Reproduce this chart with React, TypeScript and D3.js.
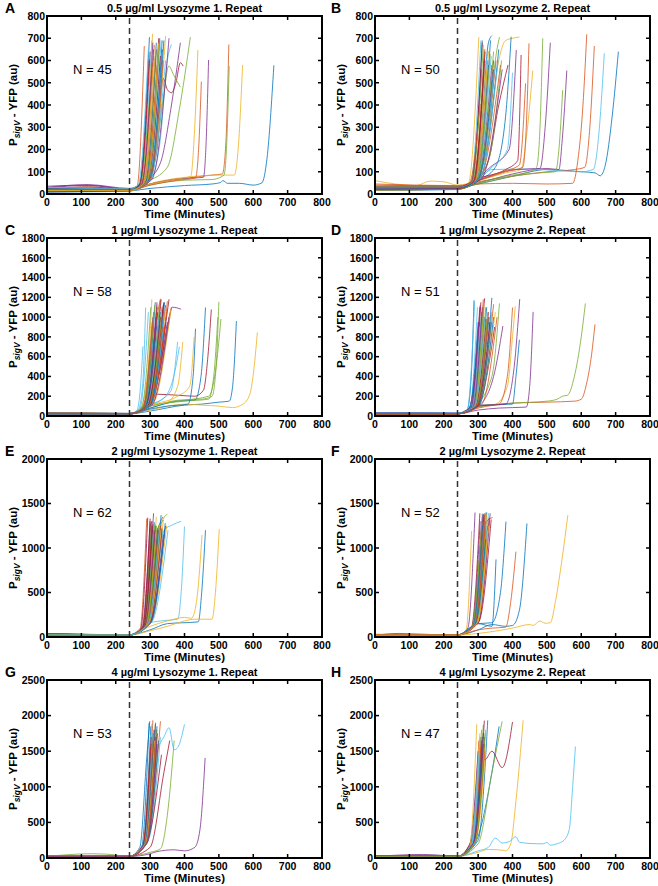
import React from 'react';
import * as d3 from 'd3';

const colors = ['#0072BD', '#D95319', '#EDB120', '#7E2F8E', '#77AC30', '#4DBEEE', '#A2142F'];
const xTicks = [0, 100, 200, 300, 400, 500, 600, 700, 800];
const yTicks800 = [0, 100, 200, 300, 400, 500, 600, 700, 800];
const yTicks1800 = [0, 200, 400, 600, 800, 1000, 1200, 1400, 1600, 1800];
const yTicks2000 = [0, 500, 1000, 1500, 2000];
const yTicks2500 = [0, 500, 1000, 1500, 2000, 2500];
const letters = ['A', 'B', 'C', 'D', 'E', 'F', 'G', 'H'];
const titles = [
  '0.5 µg/ml Lysozyme 1. Repeat', '0.5 µg/ml Lysozyme 2. Repeat',
  '1 µg/ml Lysozyme 1. Repeat', '1 µg/ml Lysozyme 2. Repeat',
  '2 µg/ml Lysozyme 1. Repeat', '2 µg/ml Lysozyme 2. Repeat',
  '4 µg/ml Lysozyme 1. Repeat', '4 µg/ml Lysozyme 2. Repeat',
];
const nCells = [45, 50, 58, 51, 62, 52, 53, 47];
const additionTime = 240;

// each trace: flat [time, value, time, value, ...]
const tracesA: number[][] = [
  [0,12,120,18,240,15,300,25,400,38,480,45,505,52,512,60,525,48,560,48,600,40,625,50,640,160,660,578],
  [0,22,120,28,240,20,300,45,400,70,480,85,510,90,520,220,529,672],
  [0,15,120,32,240,22,320,55,420,78,500,85,545,85,556,200,569,580],
  [0,28,120,38,240,22,300,45,380,68,455,75,462,200,470,602],
  [0,10,120,22,240,16,300,40,400,62,480,65,515,85,522,200,530,575],
  [0,18,120,25,240,20,300,60,330,250,350,600,362,672],
  [0,20,120,32,240,18,290,55,320,200,338,520,350,470,362,455,375,500,388,590,396,575],
  [0,10,240,14,300,60,335,690],
  [0,15,120,22,240,18,300,40,380,62,432,72,441,200,449,505],
  [0,20,120,25,240,20,300,45,380,68,418,78,428,250,439,647],
  [0,30,120,42,240,25,290,60,330,140,360,380,388,680],
  [0,18,120,22,240,20,290,55,350,120,385,380,417,705],
  [0,8,240,12,272,45,305,690],
  [0,25,240,20,275,50,310,650],
  [0,14,240,16,268,40,298,705],
  [0,20,240,22,262,35,283,665],
  [0,12,240,18,280,55,307,720],
  [0,35,120,40,240,20,285,55,318,650],
  [0,15,120,25,240,18,290,60,320,220,340,450,354,575,370,530,388,480],
  [0,18,240,20,285,50,322,600],
  [0,26,240,22,270,45,300,640],
  [0,10,240,15,290,60,328,700],
  [0,20,240,18,275,45,305,560],
  [0,15,240,20,300,60,345,710],
  [0,22,240,20,282,50,315,620],
  [0,30,240,25,270,45,302,500],
  [0,12,240,15,295,55,332,690],
  [0,18,240,20,288,55,325,700],
  [0,25,240,22,300,60,340,690],
  [0,14,240,18,280,50,312,670],
  [0,20,240,18,278,45,310,600],
  [0,16,240,17,305,65,355,700],
  [0,22,240,20,285,55,318,640],
  [0,28,240,24,265,40,295,650],
  [0,14,240,16,292,55,330,620],
  [0,18,240,20,296,60,336,650],
  [0,25,240,22,288,50,320,560],
  [0,12,240,14,290,55,325,680],
  [0,20,240,20,276,45,308,680],
  [0,16,240,18,292,60,328,690],
  [0,30,240,22,300,60,345,600],
  [0,10,240,14,270,45,297,600],
  [0,24,240,20,285,50,318,680],
  [0,20,240,18,296,55,338,600],
  [0,16,240,16,283,50,316,660],
];

const tracesB: number[][] = [
  [0,20,120,25,240,28,300,45,400,80,500,110,600,100,640,95,655,82,670,130,690,350,708,640],
  [0,35,120,38,240,35,300,55,400,80,500,100,580,110,610,120,625,300,638,665],
  [0,60,60,45,120,38,160,58,200,55,240,40,300,60,380,95,425,110,440,250,459,555],
  [0,30,240,32,300,50,400,90,500,115,535,110,545,250,558,555],
  [0,25,240,28,300,45,400,80,480,95,525,100,535,200,546,467],
  [0,25,240,30,300,60,340,110,450,112,600,100,635,110,650,250,667,632],
  [0,22,240,26,290,60,330,150,360,400,387,580],
  [0,20,240,24,290,45,310,300,330,680,340,712],
  [0,45,120,40,240,38,300,45,400,48,500,45,575,48,590,150,605,400,616,718],
  [0,30,240,35,290,55,330,250,360,600,380,690,400,700,420,705],
  [0,25,240,28,300,60,350,90,410,110,480,115,495,300,510,680],
  [0,20,240,26,300,50,380,80,450,100,470,120,480,300,488,700],
  [0,18,240,22,280,45,305,250,320,560,330,640],
  [0,30,240,30,285,50,305,300,318,650],
  [0,16,240,20,300,60,350,120,380,350,396,707],
  [0,40,240,36,300,60,380,100,430,120,440,300,448,677],
  [0,28,240,30,272,50,302,705],
  [0,22,240,25,290,60,335,120,390,200,411,647],
  [0,26,240,28,290,55,330,250,350,600,362,705],
  [0,24,240,25,290,60,340,120,385,200,400,545],
  [0,32,240,30,300,70,380,110,415,150,425,625],
  [0,20,240,24,282,55,312,690],
  [0,28,240,27,300,60,370,100,420,130,438,497],
  [0,22,240,24,285,55,320,650],
  [0,20,240,22,280,50,310,560],
  [0,35,240,32,290,60,330,150,355,400,368,600],
  [0,25,240,26,278,50,308,690],
  [0,30,240,30,280,55,312,680],
  [0,24,240,26,290,60,328,600],
  [0,20,240,24,275,50,306,405],
  [0,18,240,22,290,55,325,560],
  [0,28,240,28,292,60,330,580],
  [0,22,240,24,282,55,315,670],
  [0,30,240,30,296,60,338,620],
  [0,26,240,27,300,65,345,600],
  [0,22,240,25,295,60,336,690],
  [0,18,240,22,300,65,352,600],
  [0,24,240,26,288,55,322,600],
  [0,30,240,30,298,60,340,580],
  [0,20,240,23,296,60,335,630],
  [0,28,240,28,300,65,348,560],
  [0,22,240,25,288,55,320,640],
  [0,26,240,28,305,70,360,650],
  [0,20,240,22,305,70,365,580],
  [0,30,240,28,292,60,330,640],
  [0,24,240,25,310,70,370,560],
  [0,18,240,22,300,65,345,640],
  [0,26,240,27,305,70,358,600],
  [0,22,240,24,286,55,318,600],
  [0,28,240,28,300,65,345,560],
];

const tracesC: number[][] = [
  [0,25,240,22,300,50,400,110,450,120,500,140,530,150,540,300,551,960],
  [0,30,240,25,275,80,300,400,320,1000,330,1185],
  [0,20,120,28,240,22,300,60,400,120,450,110,500,100,540,85,570,120,590,220,600,420,612,845],
  [0,28,240,25,280,80,305,600,320,1150],
  [0,22,240,24,300,80,380,160,450,170,480,200,492,500,500,1155],
  [0,18,240,20,262,60,272,300,279,703],
  [0,30,240,25,300,150,320,220,380,210,430,200,455,260,468,600,478,1077],
  [0,20,240,22,300,80,380,150,430,160,448,400,461,1097],
  [0,26,240,24,280,80,310,500,330,1170],
  [0,22,240,23,270,70,292,400,305,1180],
  [0,25,240,25,285,90,320,600,340,1140],
  [0,24,240,22,300,100,400,150,470,170,485,400,497,1000],
  [0,20,240,20,265,60,278,300,287,1097],
  [0,28,240,26,285,90,318,700,332,1180],
  [0,18,240,20,300,70,350,100,410,120,425,400,432,883],
  [0,24,240,24,285,100,330,500,350,1160],
  [0,26,240,25,280,80,312,700,322,1130],
  [0,22,240,23,290,100,330,700,345,1120],
  [0,20,240,22,300,100,400,160,470,200,490,450,506,981],
  [0,24,240,23,270,70,295,1050],
  [0,22,240,24,290,90,330,600,355,1180],
  [0,28,240,26,280,80,308,1000],
  [0,20,240,22,290,90,340,650,362,1100],
  [0,26,240,25,300,110,380,200,415,300,428,800],
  [0,22,240,22,300,120,340,700,365,1100,390,1080],
  [0,25,240,24,275,80,302,1100],
  [0,20,240,21,285,80,310,900],
  [0,28,240,25,290,100,325,700,340,1150],
  [0,22,240,23,282,80,315,1150],
  [0,26,240,24,278,80,306,950],
  [0,24,240,24,300,110,350,140,380,300,395,750],
  [0,20,240,21,288,90,318,1000],
  [0,22,240,23,283,85,313,1120],
  [0,26,240,25,300,110,345,200,375,500,385,700],
  [0,20,240,22,295,100,338,1120],
  [0,24,240,24,292,100,330,1050],
  [0,22,240,22,296,100,335,1000],
  [0,26,240,25,300,110,345,1100],
  [0,20,240,21,290,90,322,1050],
  [0,28,240,26,292,100,328,1150],
  [0,22,240,22,300,110,360,250,380,750],
  [0,26,240,25,287,90,320,1100],
  [0,20,240,22,298,105,340,900],
  [0,24,240,24,280,80,310,1050],
  [0,22,240,23,305,120,355,1000],
  [0,26,240,25,300,110,350,950],
  [0,20,240,22,295,100,330,900],
  [0,28,240,26,290,100,326,1000],
  [0,22,240,23,300,110,345,950],
  [0,24,240,24,285,90,318,900],
  [0,20,240,21,302,110,348,1050],
  [0,26,240,25,308,120,360,1080],
  [0,22,240,22,305,110,355,1000],
  [0,24,240,24,296,100,334,1100],
  [0,20,240,22,300,100,340,950],
  [0,26,240,25,292,95,330,1000],
  [0,22,240,23,300,105,342,1150],
  [0,24,240,24,295,100,336,900],
];

const tracesD: number[][] = [
  [0,35,120,30,240,25,268,60,280,400,288,1170],
  [0,20,240,22,300,80,400,130,500,140,580,150,600,170,615,320,630,620,640,927],
  [0,22,240,24,290,90,350,120,385,300,400,800,408,1110],
  [0,25,240,22,300,60,360,80,440,90,450,300,460,1053],
  [0,24,240,24,300,90,400,130,500,150,530,170,545,200,560,210,580,400,600,800,612,1138],
  [0,30,240,26,285,90,320,500,340,1050],
  [0,22,240,22,272,70,300,600,319,1190],
  [0,32,240,26,300,110,400,120,410,400,420,771],
  [0,24,240,23,290,100,360,120,385,400,400,1097],
  [0,20,240,22,280,80,310,1000],
  [0,26,240,24,300,100,380,120,405,500,421,1182],
  [0,22,240,22,290,100,340,400,362,1138],
  [0,34,240,28,268,60,290,1160],
  [0,26,240,24,275,80,305,1100],
  [0,28,240,25,290,100,325,600,340,1195],
  [0,22,240,23,285,90,315,1180],
  [0,24,240,24,285,90,318,1120],
  [0,20,240,22,300,100,345,400,372,910],
  [0,26,240,24,290,100,330,1000],
  [0,30,240,26,275,70,298,1100],
  [0,22,240,22,280,80,308,1150],
  [0,26,240,24,275,80,300,950],
  [0,24,240,23,300,110,345,1130],
  [0,20,240,22,285,90,312,900],
  [0,28,240,25,280,80,306,1120],
  [0,24,240,24,290,100,322,1100],
  [0,32,240,27,285,90,312,1000],
  [0,22,240,22,295,100,330,1050],
  [0,26,240,24,290,100,325,1100],
  [0,20,240,22,282,80,310,1050],
  [0,24,240,24,298,105,340,1000],
  [0,28,240,26,290,100,318,1000],
  [0,22,240,23,286,90,315,1050],
  [0,30,240,27,280,80,305,900],
  [0,24,240,24,300,110,348,900],
  [0,22,240,23,295,100,332,1000],
  [0,26,240,25,292,100,326,950],
  [0,24,240,24,300,110,350,1050],
  [0,30,240,27,278,75,302,950],
  [0,22,240,23,288,95,318,1000],
  [0,28,240,26,283,85,310,1050],
  [0,24,240,24,292,100,324,980],
  [0,26,240,25,300,105,338,950],
  [0,22,240,23,296,100,330,1000],
  [0,24,240,24,290,100,320,950],
  [0,32,240,28,285,90,312,1100],
  [0,24,240,24,295,100,328,1050],
  [0,30,240,27,290,100,320,1000],
  [0,22,240,23,298,105,334,950],
  [0,26,240,25,303,110,345,1000],
  [0,24,240,24,310,115,355,1000],
];

const tracesE: number[][] = [
  [0,30,240,25,300,80,350,150,440,170,450,500,461,1200],
  [0,25,240,22,270,80,290,1330],
  [0,20,240,22,300,70,350,120,400,180,430,200,480,200,490,500,501,1211],
  [0,35,240,25,275,90,300,1300],
  [0,28,240,24,300,200,335,1300,350,1380],
  [0,22,240,22,290,150,330,180,380,200,392,600,400,1241],
  [0,40,120,30,240,24,272,80,293,1340],
  [0,25,240,23,280,100,305,1300],
  [0,28,240,24,285,150,322,1200,337,1350],
  [0,20,240,22,300,120,350,180,400,220,420,210,435,400,451,1147],
  [0,30,240,25,280,100,305,1300],
  [0,24,240,23,290,150,325,1250,340,1310],
  [0,22,240,22,300,150,340,1200,365,1260,390,1300],
  [0,35,240,25,278,100,300,1330],
  [0,26,240,23,285,120,312,1290],
  [0,24,240,23,282,110,308,1270],
  [0,22,240,22,285,120,318,1350],
  [0,30,240,24,284,120,310,1200],
  [0,26,240,24,290,140,325,1250],
  [0,24,240,23,283,110,310,1250],
  [0,28,240,24,278,100,302,1280],
  [0,22,240,22,295,150,332,1370],
  [0,30,240,25,282,110,306,1220],
  [0,24,240,23,292,150,328,1200],
  [0,20,240,21,280,100,310,1390],
  [0,32,240,25,280,100,304,1280],
  [0,26,240,24,288,130,318,1150],
  [0,24,240,23,290,140,322,1180],
  [0,28,240,24,285,120,315,1250],
  [0,22,240,22,286,120,313,1200],
  [0,26,240,24,296,150,335,1230],
  [0,24,240,23,300,160,338,1150],
  [0,30,240,25,286,120,314,1270],
  [0,22,240,22,294,150,330,1200],
  [0,26,240,24,280,100,306,1250],
  [0,24,240,23,290,140,324,1200],
  [0,28,240,24,285,120,312,1170],
  [0,22,240,22,298,150,338,1300],
  [0,26,240,24,288,130,320,1200],
  [0,24,240,23,283,110,310,1160],
  [0,30,240,25,292,150,326,1150],
  [0,22,240,22,295,150,330,1250],
  [0,26,240,24,300,160,345,1250],
  [0,24,240,23,288,130,316,1250],
  [0,28,240,24,302,160,348,1250],
  [0,22,240,22,296,150,334,1220],
  [0,26,240,24,290,140,320,1200],
  [0,24,240,23,297,150,336,1180],
  [0,30,240,25,292,140,325,1200],
  [0,22,240,22,290,140,322,1220],
  [0,26,240,24,295,150,330,1250],
  [0,24,240,23,287,120,318,1180],
  [0,28,240,24,300,160,342,1200],
  [0,22,240,22,294,150,328,1220],
  [0,26,240,24,305,170,352,1200],
  [0,24,240,23,298,150,334,1200],
  [0,30,240,25,302,160,344,1280],
  [0,22,240,22,291,140,323,1200],
  [0,26,240,24,296,150,332,1200],
  [0,24,240,23,284,120,314,1200],
  [0,28,240,24,289,130,319,1250],
  [0,22,240,22,293,140,327,1220],
];

const tracesF: number[][] = [
  [0,20,240,22,300,80,340,140,380,120,400,130,420,300,442,1275],
  [0,22,240,24,300,80,340,100,380,110,395,400,410,959],
  [0,25,240,22,300,40,400,100,450,140,460,130,480,180,495,155,510,160,525,400,545,900,561,1369],
  [0,20,70,40,110,35,240,22,270,100,291,1399],
  [0,24,240,23,280,100,315,1380],
  [0,22,240,22,290,150,330,1390],
  [0,26,240,24,280,100,305,1390],
  [0,24,240,23,300,150,340,160,365,500,381,1297],
  [0,28,240,25,290,150,325,1300,342,1342],
  [0,22,240,22,265,80,281,1192],
  [0,30,240,25,285,120,310,1300],
  [0,24,240,23,288,140,318,1390],
  [0,22,240,22,295,150,322,1400],
  [0,26,240,24,283,120,308,1100],
  [0,24,240,23,300,150,340,120,352,872],
  [0,28,240,25,286,130,316,1380],
  [0,22,240,22,284,120,312,1350],
  [0,26,240,24,282,110,306,1300],
  [0,24,240,23,290,150,320,1200],
  [0,22,240,22,285,120,312,1390],
  [0,26,240,24,288,140,318,1370],
  [0,24,240,23,294,150,325,1400],
  [0,28,240,25,283,120,310,1250],
  [0,22,240,22,292,150,323,1350],
  [0,26,240,24,286,130,314,1380],
  [0,24,240,23,281,110,306,1000],
  [0,22,240,22,288,140,316,1100],
  [0,26,240,24,292,150,322,1250],
  [0,24,240,23,290,140,320,1300],
  [0,28,240,25,287,130,315,1200],
  [0,22,240,22,295,150,327,1300],
  [0,26,240,24,296,160,328,1250],
  [0,24,240,23,284,120,311,1300],
  [0,22,240,22,291,140,320,1350],
  [0,26,240,24,299,160,332,1340],
  [0,24,240,23,285,120,313,1250],
  [0,28,240,25,289,140,318,1150],
  [0,22,240,22,293,150,324,1380],
  [0,26,240,24,300,160,335,1390],
  [0,24,240,23,287,130,314,1200],
  [0,22,240,22,294,150,326,1250],
  [0,26,240,24,290,140,319,1300],
  [0,24,240,23,286,130,315,1150],
  [0,28,240,25,291,150,321,1300],
  [0,22,240,22,297,150,330,1250],
  [0,26,240,24,289,140,317,1350],
  [0,24,240,23,293,150,323,1200],
  [0,22,240,22,288,140,318,1300],
  [0,26,240,24,302,170,338,1320],
  [0,24,240,23,292,150,322,1100],
  [0,28,240,25,290,150,320,1390],
  [0,22,240,22,296,150,328,1200],
];

const tracesG: number[][] = [
  [0,20,240,22,270,150,290,1400,299,1920],
  [0,30,240,24,280,200,308,1934],
  [0,24,240,23,282,200,310,1800],
  [0,25,240,22,300,60,320,90,370,115,400,100,430,150,445,400,460,1406],
  [0,22,130,60,170,55,240,25,300,80,330,130,350,600,370,1651],
  [0,24,240,23,285,200,320,1500,330,1620,340,1700,355,1830,370,1520,380,1550,400,1877],
  [0,30,240,24,300,150,340,1200,357,1650],
  [0,26,240,23,275,150,297,1900],
  [0,28,240,24,290,200,330,1920],
  [0,22,240,22,285,200,312,1700],
  [0,26,240,23,280,180,305,1500],
  [0,24,240,23,290,200,320,1600],
  [0,22,240,22,295,250,330,1700],
  [0,28,240,24,292,250,333,1450],
  [0,24,240,23,278,160,302,1850],
  [0,26,240,24,285,200,315,1880],
  [0,22,240,22,282,180,308,1750],
  [0,28,240,24,284,200,310,1600],
  [0,24,240,23,286,200,315,1700],
  [0,26,240,24,280,180,305,1880],
  [0,22,240,22,288,200,318,1800],
  [0,28,240,24,290,220,320,1750],
  [0,24,240,23,278,160,300,1500],
  [0,26,240,24,283,180,310,1650],
  [0,22,240,22,281,180,306,1600],
  [0,28,240,24,287,200,316,1700],
  [0,24,240,23,284,190,310,1750],
  [0,26,240,24,279,170,303,1700],
  [0,22,240,22,289,210,320,1850],
  [0,28,240,24,286,200,314,1550],
  [0,24,240,23,291,220,322,1600],
  [0,26,240,24,285,200,313,1800],
  [0,22,240,22,282,180,308,1700],
  [0,28,240,24,288,200,317,1650],
  [0,24,240,23,283,180,309,1750],
  [0,26,240,24,292,220,324,1650],
  [0,22,240,22,281,170,305,1700],
  [0,28,240,24,287,200,315,1750],
  [0,24,240,23,290,210,319,1600],
  [0,26,240,24,284,190,311,1800],
  [0,22,240,22,286,200,314,1700],
  [0,28,240,24,280,170,304,1600],
  [0,24,240,23,288,200,316,1900],
  [0,26,240,24,283,180,309,1650],
  [0,22,240,22,289,210,318,1750],
  [0,28,240,24,285,200,312,1650],
  [0,24,240,23,290,210,320,1800],
  [0,26,240,24,282,180,307,1750],
  [0,22,240,22,287,200,315,1700],
  [0,28,240,24,284,190,311,1600],
  [0,24,240,23,289,210,318,1700],
  [0,26,240,24,286,200,313,1650],
  [0,22,240,22,291,220,321,1750],
];

const tracesH: number[][] = [
  [0,22,240,22,290,200,340,1200,361,1849],
  [0,24,240,23,278,180,302,1650],
  [0,26,240,24,300,80,330,120,370,110,380,100,395,200,410,800,431,1934],
  [0,22,140,50,170,45,240,24,275,180,300,1500],
  [0,24,240,23,300,200,340,1200,370,1920],
  [0,20,240,22,300,100,330,150,350,280,370,210,390,230,410,300,420,220,470,200,490,200,500,220,510,180,530,200,550,250,565,400,575,1000,583,1566],
  [0,26,240,24,285,300,300,1000,310,1400,320,1380,340,1500,370,1270,400,1910],
  [0,22,240,22,300,250,328,1934],
  [0,28,240,24,282,200,308,1700],
  [0,22,240,22,275,150,296,1877],
  [0,26,240,24,283,200,310,1600],
  [0,24,240,23,288,220,315,1870],
  [0,22,240,22,292,250,322,1800],
  [0,28,240,24,290,220,318,1930],
  [0,24,240,23,280,190,302,1250],
  [0,26,240,24,286,200,312,1500],
  [0,22,240,22,281,180,305,1750],
  [0,28,240,24,288,210,314,1400],
  [0,24,240,23,285,200,310,1800],
  [0,26,240,24,283,200,308,1500],
  [0,22,240,22,290,220,318,1450],
  [0,28,240,24,285,200,312,1700],
  [0,24,240,23,282,190,306,1550],
  [0,26,240,24,292,240,320,1600],
  [0,22,240,22,284,200,310,1650],
  [0,28,240,24,287,210,313,1550],
  [0,24,240,23,279,170,301,1450],
  [0,26,240,24,289,220,316,1400],
  [0,22,240,22,286,200,311,1600],
  [0,28,240,24,291,230,319,1500],
  [0,24,240,23,283,190,307,1700],
  [0,26,240,24,288,210,315,1750],
  [0,22,240,22,285,200,312,1450],
  [0,28,240,24,281,180,305,1350],
  [0,24,240,23,290,220,317,1600],
  [0,26,240,24,287,210,314,1550],
  [0,22,240,22,284,200,309,1650],
  [0,28,240,24,293,240,322,1500],
  [0,24,240,23,286,200,312,1550],
  [0,26,240,24,289,220,316,1650],
  [0,22,240,22,282,190,306,1700],
  [0,28,240,24,291,230,319,1700],
  [0,24,240,23,285,200,311,1400],
  [0,26,240,24,288,210,314,1450],
  [0,22,240,22,290,220,318,1550],
  [0,28,240,24,287,210,315,1600],
  [0,24,240,23,292,230,320,1750],
];

const allTraces = [tracesA, tracesB, tracesC, tracesD, tracesE, tracesF, tracesG, tracesH];
const allYTicks = [yTicks800, yTicks800, yTicks1800, yTicks1800, yTicks2000, yTicks2000, yTicks2500, yTicks2500];

const FONT = 'Liberation Sans, Arial, Helvetica, sans-serif';
const W = 658;
const H = 886;
const colLeft = [47, 375];
const plotW = 275;
const rowTop = [16, 238, 459, 680];
const plotH = 178;

function toPairs(flat: number[]): [number, number][] {
  const out: [number, number][] = [];
  for (let i = 0; i < flat.length; i += 2) out.push([flat[i], flat[i + 1]]);
  return out;
}

function Panel({ idx }: { idx: number }) {
  const col = idx % 2;
  const row = Math.floor(idx / 2);
  const left = colLeft[col];
  const top = rowTop[row];
  const yTicks = allYTicks[idx];
  const yMax = yTicks[yTicks.length - 1];
  const x = d3.scaleLinear().domain([0, 800]).range([left, left + plotW]);
  const y = d3.scaleLinear().domain([0, yMax]).range([top + plotH, top]);
  const line = d3
    .line<[number, number]>()
    .x((d) => x(d[0]))
    .y((d) => y(d[1]))
    .curve(d3.curveMonotoneX);
  const clipId = `clip${idx}`;
  const bottom = top + plotH;
  const right = left + plotW;
  const tickLen = 4;
  return (
    <g>
      <defs>
        <clipPath id={clipId}>
          <rect x={left} y={top} width={plotW} height={plotH} />
        </clipPath>
      </defs>
      <g clipPath={`url(#${clipId})`}>
        {allTraces[idx].map((t, i) => (
          <path
            key={i}
            d={line(toPairs(t)) || ''}
            fill="none"
            stroke={colors[i % colors.length]}
            strokeWidth={0.8}
          />
        ))}
      </g>
      <line
        x1={x(additionTime)}
        x2={x(additionTime)}
        y1={bottom}
        y2={top}
        stroke="#333"
        strokeWidth={1.5}
        strokeDasharray="6,4"
      />
      {/* ticks */}
      {xTicks.map((t) => (
        <g key={'x' + t}>
          <line x1={x(t)} x2={x(t)} y1={bottom} y2={bottom - tickLen} stroke="#000" strokeWidth={1.5} />
          <line x1={x(t)} x2={x(t)} y1={top} y2={top + tickLen} stroke="#000" strokeWidth={1.5} />
          <text x={x(t)} y={bottom + 12} textAnchor="middle" fontFamily={FONT} fontWeight="bold" fontSize={10.5}>
            {t}
          </text>
        </g>
      ))}
      {yTicks.map((t) => (
        <g key={'y' + t}>
          <line x1={left} x2={left + tickLen} y1={y(t)} y2={y(t)} stroke="#000" strokeWidth={1.5} />
          <line x1={right} x2={right - tickLen} y1={y(t)} y2={y(t)} stroke="#000" strokeWidth={1.5} />
          <text x={left - 2} y={y(t) + 3.8} textAnchor="end" fontFamily={FONT} fontWeight="bold" fontSize={10.5}>
            {t}
          </text>
        </g>
      ))}
      <rect x={left} y={top} width={plotW} height={plotH} fill="none" stroke="#000" strokeWidth={2} />
      <text x={(left + right) / 2} y={top - 4} textAnchor="middle" fontFamily={FONT} fontWeight="bold" fontSize={11}>
        {titles[idx]}
      </text>
      <text x={col === 0 ? 5 : 331} y={top - 3} fontFamily={FONT} fontWeight="bold" fontSize={14}>
        {letters[idx]}
      </text>
      <text x={left + 26} y={top + 58} fontFamily={FONT} fontSize={13}>
        {`N = ${nCells[idx]}`}
      </text>
      <text x={(left + right) / 2} y={bottom + 24} textAnchor="middle" fontFamily={FONT} fontWeight="bold" fontSize={11.5}>
        Time (Minutes)
      </text>
      <text
        transform={`translate(${left - 30},${(top + bottom) / 2}) rotate(-90)`}
        textAnchor="middle"
        fontFamily={FONT}
        fontWeight="bold"
        fontSize={11.5}
      >
        <tspan>P</tspan>
        <tspan fontStyle="italic" fontSize={8.5} dy={3}>sigV</tspan>
        <tspan dy={-3}> - YFP (au)</tspan>
      </text>
    </g>
  );
}

export default function App() {
  return (
    <svg
      width={W}
      height={H}
      viewBox={`0 0 ${W} ${H}`}
      style={{ position: 'absolute', left: 0, top: 0, background: '#fff' }}
    >
      <rect x={0} y={0} width={W} height={H} fill="#fff" />
      {letters.map((_, i) => (
        <Panel key={i} idx={i} />
      ))}
    </svg>
  );
}
